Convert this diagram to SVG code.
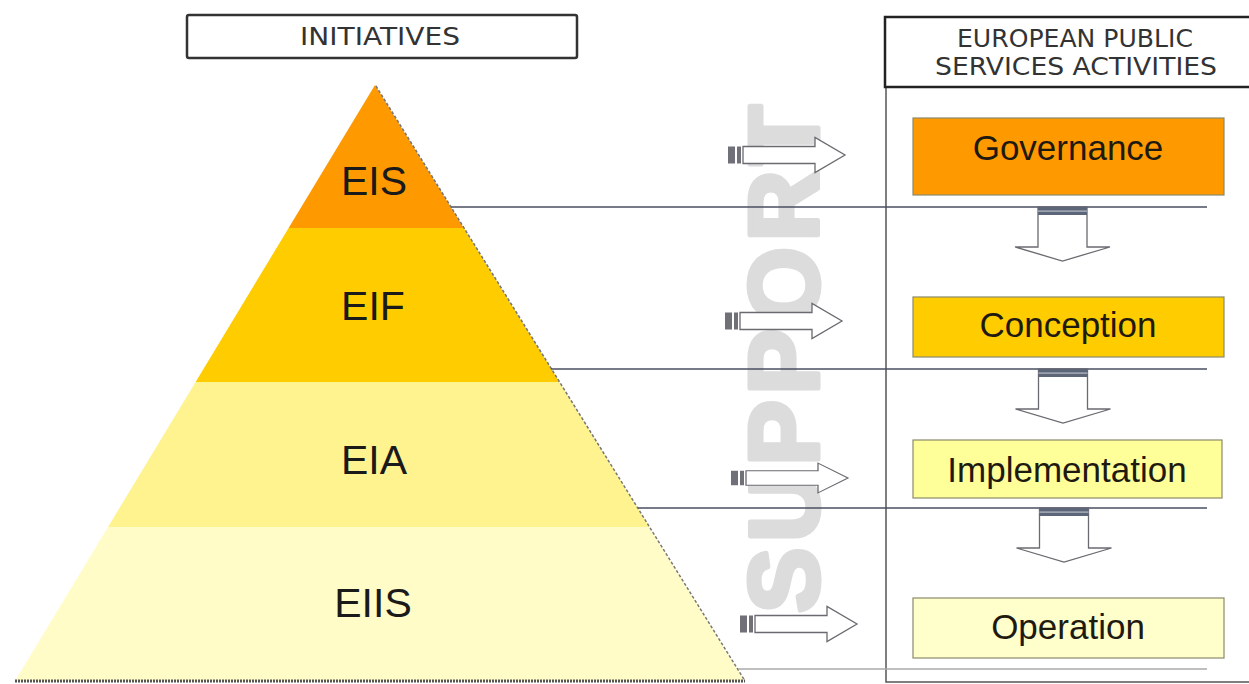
<svg xmlns="http://www.w3.org/2000/svg" width="1249" height="684" viewBox="0 0 1249 684">
<style>
.hdr{font-family:"DejaVu Sans","Liberation Sans",sans-serif;fill:#333;}
.lbl{font-family:"Liberation Sans",Arial,sans-serif;font-size:41px;fill:#1a1a1a;text-anchor:middle;}
.act{font-family:"Liberation Sans",Arial,sans-serif;font-size:35px;fill:#1f1a10;text-anchor:middle;}
.box{stroke:#8a8a6a;stroke-width:1.2;}
.link{stroke:#4a4f60;stroke-width:1.3;fill:none;}
.arr{fill:#fff;stroke:#6a6a70;stroke-width:1.3;}
.stub{fill:#707078;}
.wm{font-family:"Liberation Sans",Arial,sans-serif;font-weight:bold;font-size:98px;fill:#dcdcdc;stroke:#dcdcdc;stroke-width:5;stroke-linejoin:round;}
</style>
<defs>
<g id="rarrow">
<rect class="stub" x="0" y="-8.5" width="7" height="17"/>
<rect class="stub" x="9" y="-8.5" width="4" height="17"/>
<path class="arr" d="M15,-8.5 H87 V-17.5 L117,0 L87,17.5 V8.5 H15 Z"/>
</g>
<g id="darrow">
<path class="arr" d="M-24.5,0 H24.5 V40 H47.5 L0,54 L-47.5,40 H-24.5 Z"/>
<rect x="-24.5" y="0" width="49" height="8" fill="#5d6678"/>
<rect x="-24.5" y="3.5" width="49" height="1.2" fill="#b8bcc8"/>
</g>
</defs>

<rect width="1249" height="684" fill="#fff"/>

<text id="watermark" class="wm" transform="translate(818,613) rotate(-90)" textLength="508" lengthAdjust="spacing">SUPPORT</text>

<g id="initiatives">
<rect x="187" y="15" width="390" height="43" rx="2" fill="#fff" stroke="#333" stroke-width="2.5"/>
<text class="hdr" x="380" y="45" font-size="25" text-anchor="middle" textLength="160" lengthAdjust="spacingAndGlyphs">INITIATIVES</text>
</g>

<g id="eps-panel">
<rect x="886" y="17" width="400" height="665" fill="none" stroke="#555" stroke-width="1.5"/>
<rect x="885" y="17" width="400" height="70" fill="#fff" stroke="#222" stroke-width="2.5"/>
<text class="hdr" x="1075" y="47" font-size="24" text-anchor="middle" textLength="236" lengthAdjust="spacingAndGlyphs">EUROPEAN PUBLIC</text>
<text class="hdr" x="1076" y="75" font-size="24" text-anchor="middle" textLength="282" lengthAdjust="spacingAndGlyphs">SERVICES ACTIVITIES</text>
</g>

<g id="pyramid">
<g id="eis">
<polygon points="375,85 463.8,228 288.6,228" fill="#ff9900"/>
<text class="lbl" x="374" y="195">EIS</text>
</g>
<g id="eif">
<polygon points="288.6,228 463.8,228 559.4,382 195.6,382" fill="#ffcc00"/>
<text class="lbl" x="373" y="320">EIF</text>
</g>
<g id="eia">
<polygon points="195.6,382 559.4,382 649.5,527 108,527" fill="#fff38f"/>
<text class="lbl" x="374" y="474">EIA</text>
</g>
<g id="eiis">
<polygon points="108,527 649.5,527 745,681 15,681" fill="#fffcc8"/>
<text class="lbl" x="373" y="617">EIIS</text>
</g>
<line x1="376" y1="86" x2="745" y2="681" stroke="#777" stroke-width="1.5" stroke-dasharray="3 2"/>
<line x1="15" y1="681" x2="745" y2="681" stroke="#555" stroke-width="3" stroke-dasharray="2 1"/>
</g>

<g id="governance">
<rect class="box" x="913" y="118" width="311" height="77" fill="#ff9900"/>
<text class="act" x="1068" y="160">Governance</text>
</g>
<g id="conception">
<rect class="box" x="913" y="297" width="311" height="60" fill="#ffcc00"/>
<text class="act" x="1068" y="337">Conception</text>
</g>
<g id="implementation">
<rect class="box" x="913" y="440" width="309" height="58" fill="#ffff99"/>
<text class="act" x="1067" y="482">Implementation</text>
</g>
<g id="operation">
<rect class="box" x="913" y="598" width="311" height="60" fill="#ffffcc"/>
<text class="act" x="1068" y="639">Operation</text>
</g>

<g id="connectors">
<line class="link" x1="451" y1="207" x2="1207" y2="207"/>
<line class="link" x1="551" y1="369" x2="1207" y2="369"/>
<line class="link" x1="638" y1="508" x2="1207" y2="508"/>
<line x1="738" y1="669" x2="1207" y2="669" stroke="#aaa" stroke-width="1.5"/>
<use href="#rarrow" transform="translate(728,155)"/>
<use href="#rarrow" transform="translate(725,321)"/>
<use href="#rarrow" transform="translate(731,478) scale(1,0.85)"/>
<use href="#rarrow" transform="translate(740,624)"/>
<use href="#darrow" transform="translate(1062.5,207)"/>
<use href="#darrow" transform="translate(1063,369)"/>
<use href="#darrow" transform="translate(1064,508)"/>
</g>
</svg>
